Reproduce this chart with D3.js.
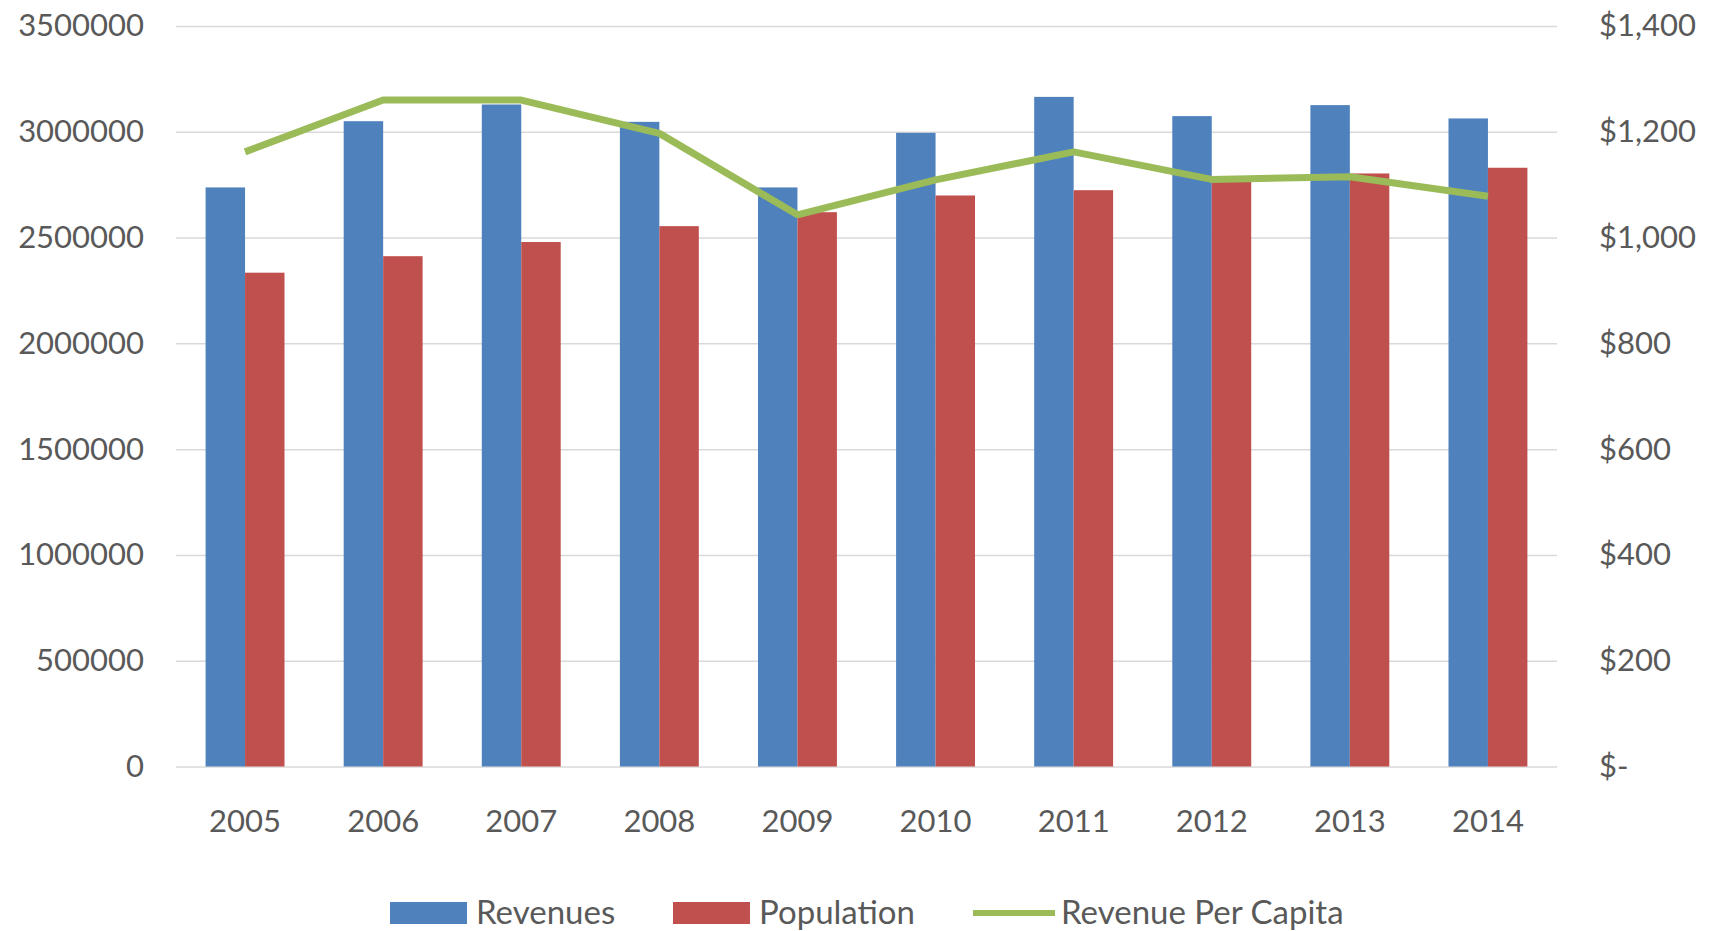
<!DOCTYPE html>
<html>
<head>
<meta charset="utf-8">
<script src="https://cdn.jsdelivr.net/npm/d3@7"></script>
<style>
  html, body { margin: 0; padding: 0; background: #fff; }
  svg { display: block; }
  text { font-family: Lato, "Open Sans", sans-serif; fill: #595959; }
</style>
</head>
<body>
<svg id="chart" width="1723" height="931"></svg>
<script>
const years = ["2005","2006","2007","2008","2009","2010","2011","2012","2013","2014"];
const revenues = [2737000, 3050000, 3129000, 3047000, 2737000, 2995000, 3165000, 3074000, 3126000, 3063000];
const population = [2334000, 2412000, 2479000, 2554000, 2620000, 2699000, 2724000, 2764000, 2803000, 2830000];
const perCapita = [1162, 1260, 1260, 1197, 1043, 1109, 1162, 1110, 1115, 1078];
const leftTicks = [0, 500000, 1000000, 1500000, 2000000, 2500000, 3000000, 3500000];
const rightTicks = [0, 200, 400, 600, 800, 1000, 1200, 1400];
const seriesNames = ["Revenues", "Population", "Revenue Per Capita"];
const colors = {"Revenues": "#4F81BD", "Population": "#C0504D", "Revenue Per Capita": "#9BBB59"};

const svg = d3.select("#chart");
const plot = {left: 176, right: 1557, top: 26, bottom: 766.5};

const x = d3.scaleBand().domain(years).range([plot.left, plot.right])
  .paddingInner(1.5/3.5).paddingOuter(0.75/3.5);
const xSub = d3.scaleBand().domain(["Revenues","Population"]).range([0, x.bandwidth()]);
const yL = d3.scaleLinear().domain([0, 3500000]).range([plot.bottom, plot.top]);
const yR = d3.scaleLinear().domain([0, 1400]).range([plot.bottom, plot.top]);

// gridlines
svg.append("g").attr("class","grid")
  .attr("transform", `translate(${plot.left},0)`)
  .call(d3.axisLeft(yL).tickValues(leftTicks).tickSize(-(plot.right - plot.left)).tickFormat(""))
  .call(g => g.select(".domain").remove())
  .call(g => g.selectAll("line").attr("stroke", "#D9D9D9").attr("stroke-width", 1.5));

// left axis labels
svg.append("g")
  .attr("transform", `translate(${plot.left - 32},0)`)
  .call(d3.axisLeft(yL).tickValues(leftTicks).tickSize(0).tickPadding(0).tickFormat(d3.format("d")))
  .call(g => g.select(".domain").remove())
  .call(g => g.selectAll("text").attr("font-size", 31).attr("fill", "#595959").style("font-family", "Lato, 'Open Sans', sans-serif"));

// right axis labels
svg.append("g")
  .attr("transform", `translate(${1599},0)`)
  .call(d3.axisRight(yR).tickValues(rightTicks).tickSize(0).tickPadding(0)
    .tickFormat(v => v === 0 ? "$-" : "$" + d3.format(",")(v)))
  .call(g => g.select(".domain").remove())
  .call(g => g.selectAll("text").attr("font-size", 31).attr("fill", "#595959").style("font-family", "Lato, 'Open Sans', sans-serif"));

// x axis labels
svg.append("g")
  .attr("transform", `translate(0,${plot.bottom})`)
  .call(d3.axisBottom(x).tickSize(0).tickPadding(65))
  .call(g => g.select(".domain").remove())
  .call(g => g.selectAll("text").attr("font-size", 31).attr("fill", "#595959").attr("dy", "0").style("font-family", "Lato, 'Open Sans', sans-serif"));

// bars
const rows = years.map((yr, i) => ({year: yr, Revenues: revenues[i], Population: population[i]}));
const groups = svg.append("g").selectAll("g").data(rows).join("g")
  .attr("transform", d => `translate(${x(d.year)},0)`);
groups.selectAll("rect")
  .data(d => ["Revenues","Population"].map(k => ({key: k, value: d[k]})))
  .join("rect")
  .attr("x", d => xSub(d.key))
  .attr("width", xSub.bandwidth())
  .attr("y", d => yL(d.value))
  .attr("height", d => yL(0) - yL(d.value))
  .attr("fill", d => colors[d.key]);

// line
const line = d3.line()
  .x((d, i) => x(years[i]) + x.bandwidth() / 2)
  .y(d => yR(d));
svg.append("path").datum(perCapita)
  .attr("d", line)
  .attr("fill", "none")
  .attr("stroke", colors["Revenue Per Capita"])
  .attr("stroke-width", 7)
  .attr("stroke-linejoin", "round")
  .attr("stroke-linecap", "butt");

// legend
const legendY = 913;
const legendItems = [
  {name: seriesNames[0], sx: 390, tx: 476, type: "rect"},
  {name: seriesNames[1], sx: 673, tx: 759, type: "rect"},
  {name: seriesNames[2], sx: 973, tx: 1061, type: "line"}
];
const lg = svg.append("g");
legendItems.forEach(it => {
  if (it.type === "rect") {
    lg.append("rect").attr("x", it.sx).attr("y", legendY - 11).attr("width", 77).attr("height", 22)
      .attr("fill", colors[it.name]);
  } else {
    lg.append("line").attr("x1", it.sx).attr("x2", it.sx + 82).attr("y1", legendY).attr("y2", legendY)
      .attr("stroke", colors[it.name]).attr("stroke-width", 6);
  }
  lg.append("text").attr("x", it.tx).attr("y", legendY + 11).attr("font-size", 33).text(it.name);
});
</script>
</body>
</html>
